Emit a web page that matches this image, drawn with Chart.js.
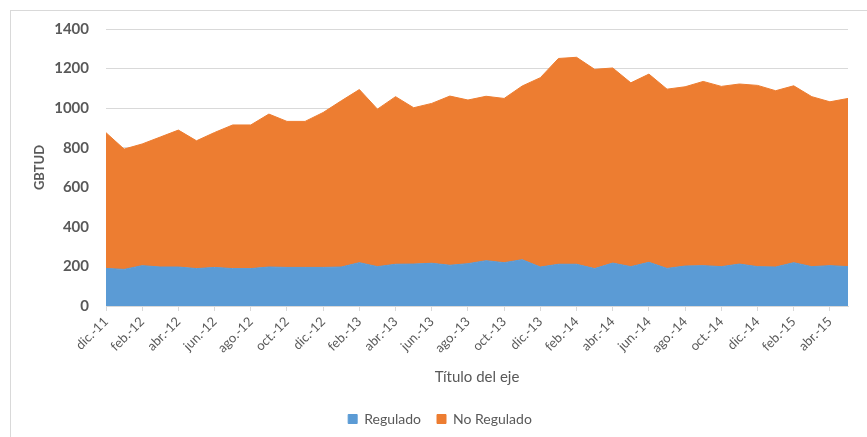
<!DOCTYPE html>
<html>
<head>
<meta charset="utf-8">
<script src="https://cdn.jsdelivr.net/npm/chart.js@4/dist/chart.umd.min.js"></script>
<style>
  body { margin: 0; background: #fff; }
  #wrap { position: relative; width: 867px; height: 437px; overflow: hidden; }
  #frame { position: absolute; left: 10px; top: 10px; width: 880px; height: 450px; border: 1px solid #d9d9d9; }
  #gasChart { position: absolute; left: 0; top: 0; }
</style>
</head>
<body>
<div id="wrap">
  <div id="frame"></div>
  <canvas id="gasChart" width="867" height="437"></canvas>
</div>
<script>
const months = [
  "dic.-11",
  "ene.-12", "feb.-12", "mar.-12", "abr.-12", "may.-12", "jun.-12",
  "jul.-12", "ago.-12", "sep.-12", "oct.-12", "nov.-12", "dic.-12",
  "ene.-13", "feb.-13", "mar.-13", "abr.-13", "may.-13", "jun.-13",
  "jul.-13", "ago.-13", "sep.-13", "oct.-13", "nov.-13", "dic.-13",
  "ene.-14", "feb.-14", "mar.-14", "abr.-14", "may.-14", "jun.-14",
  "jul.-14", "ago.-14", "sep.-14", "oct.-14", "nov.-14", "dic.-14",
  "ene.-15", "feb.-15", "mar.-15", "abr.-15", "may.-15",
];

const regulado = [
  190, 185, 204, 197, 197, 189, 195, 189, 189, 197, 195, 195, 195, 197,
  219, 199, 211, 212, 216, 206, 214, 229, 219, 234, 197, 211, 211, 189,
  217, 199, 221, 190, 202, 204, 199, 212, 199, 197, 219, 199, 204, 199,
];

const noRegulado = [
  686, 608, 615, 657, 692, 646, 682, 726, 726, 773, 738, 738, 783, 840,
  875, 796, 847, 790, 808, 855, 827, 831, 830, 878, 957, 1040, 1046, 1007,
  986, 929, 951, 906, 906, 931, 911, 910, 916, 891, 894, 859, 828, 850,
];

const yTicks = [0, 200, 400, 600, 800, 1000, 1200, 1400];

const grey = "#595959";
const font = "'Lato', 'Liberation Sans', sans-serif";

const ctx = document.getElementById("gasChart").getContext("2d");

new Chart(ctx, {
  type: "line",
  data: {
    labels: months,
    datasets: [
      {
        label: "Regulado",
        data: regulado,
        fill: "origin",
        backgroundColor: "#5b9bd5",
        borderColor: "#5b9bd5",
        borderWidth: 1,
        pointRadius: 0,
        tension: 0,
      },
      {
        label: "No Regulado",
        data: noRegulado,
        fill: "-1",
        backgroundColor: "#ed7d31",
        borderColor: "#ed7d31",
        borderWidth: 1,
        pointRadius: 0,
        tension: 0,
      },
    ],
  },
  options: {
    responsive: false,
    animation: false,
    layout: {
      padding: { left: 32, right: 19, top: 29, bottom: 1 },
    },
    plugins: {
      legend: {
        position: "bottom",
        labels: {
          boxWidth: 9,
          boxHeight: 9,
          padding: 16,
          color: grey,
          font: { family: font, size: 14 },
        },
      },
      tooltip: { enabled: false },
    },
    scales: {
      x: {
        offset: false,
        afterFit: (scale) => { scale.height = 90; },
        grid: {
          drawOnChartArea: false,
          tickLength: 5,
          tickColor: (c) => (c.index % 2 === 0 ? "#d9d9d9" : "rgba(0,0,0,0)"),
        },
        border: { display: true, color: "#d9d9d9" },
        ticks: {
          autoSkip: false,
          maxRotation: 45,
          minRotation: 45,
          padding: 3,
          color: grey,
          font: { family: font, size: 13 },
          callback: function (value, index) {
            return index % 2 === 0 ? months[index] : "";
          },
        },
        title: {
          display: true,
          text: "Título del eje",
          color: grey,
          padding: { top: 4, bottom: 10 },
          font: { family: font, size: 15 },
        },
      },
      y: {
        stacked: true,
        min: yTicks[0],
        max: yTicks[yTicks.length - 1],
        afterFit: (scale) => { scale.width = 74; },
        afterBuildTicks: (scale) => {
          scale.ticks = yTicks.map((v) => ({ value: v }));
        },
        grid: {
          color: "#d9d9d9",
          drawTicks: false,
        },
        border: { display: false },
        ticks: {
          padding: 17,
          color: grey,
          font: { family: font, size: 15, weight: "bold" },
          callback: (value) => String(value),
        },
        title: {
          display: true,
          text: "GBTUD",
          color: grey,
          padding: { top: 0, bottom: 0 },
          font: { family: font, size: 13, weight: "bold" },
        },
      },
    },
  },
});
</script>
</body>
</html>
